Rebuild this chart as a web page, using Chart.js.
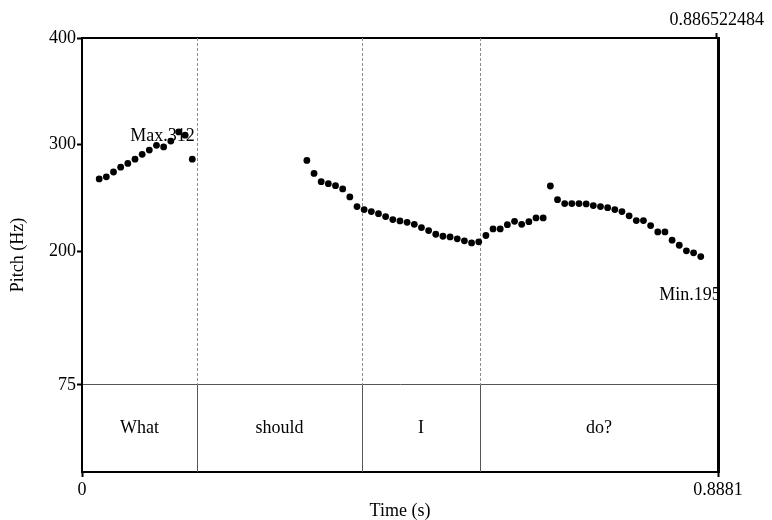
<!DOCTYPE html>
<html>
<head>
<meta charset="utf-8">
<script src="https://cdn.jsdelivr.net/npm/chart.js@4.4.0/dist/chart.umd.min.js"></script>
<style>
html,body{margin:0;padding:0;background:#fff;}
#c{display:block;}
</style>
</head>
<body>
<canvas id="c" width="772" height="520"></canvas>
<script>
// ---- data ----
const seg1Times = [0.024,0.034,0.044,0.054,0.064,0.074,0.084,0.094,0.104,0.114,0.124,0.135,0.144,0.154];
const seg1Pitch = [268,270,274.5,279,282.5,286.5,291,295,299.5,298,303.5,312,309,286.5];

const seg2Times = [0.314,0.324,0.334,0.344,0.354,0.364,0.374,0.384,0.394,0.404,0.414,0.424,0.434,0.444,0.454,0.464,0.474,
                   0.484,0.494,0.504,0.514,0.524,0.534,0.544,0.554,0.564,0.574,0.584,0.594,0.604,0.614,0.624,0.634,0.644];
const seg2Pitch = [285.3,273.2,265.4,263.6,261.7,258.6,251.1,242.1,239.3,237.4,235.5,232.7,229.9,228.7,227.4,225.5,222.4,
                   219.6,216.2,214.3,213.7,211.9,210,208.1,209.1,215,221.2,221.2,225.2,228.3,225.5,228,231.5,231.5];

const seg3Times = [0.654,0.664,0.674,0.684,0.694,0.704,0.714,0.724,0.734,0.744,0.754,0.764,0.774,0.784,0.794,0.804,0.814,
                   0.824,0.834,0.844,0.854,0.864];
const seg3Pitch = [261.4,248.6,244.9,244.9,244.9,244.6,243,242.1,241.1,239.3,237.4,233.4,229,229,224.3,218.4,218.4,
                   210.6,205.9,200.7,198.8,195.3];

const wordLabels = ["What","should","I","do?"];
const wordBoundaries = [0, 0.1606, 0.391, 0.5558, 0.8881];

const yTickValues = [75,200,300,400];
const yTickLabels = ["75","200","300","400"];
const xTickValues = [0, 0.8881];
const xTickLabels = ["0","0.8881"];
const topTickValues = [0.886522484];
const topTickLabels = ["0.886522484"];

const maxText = "Max.312";
const minText = "Min.195";

const xMax = 0.8881;
const yMax = 400;
const tierTopHz = 75;
const yMin = -6.5; // leaves room for the text tier below 75 Hz

// ---- build ----
const FONT = '"Liberation Serif", "Times New Roman", serif';
const allTimes = seg1Times.concat(seg2Times, seg3Times);
const allPitch = seg1Pitch.concat(seg2Pitch, seg3Pitch);
const points = allTimes.map((t, i) => ({x: t, y: allPitch[i]}));

const tierPlugin = {
  id: 'tier',
  beforeDatasetsDraw(chart) {
    const {ctx, chartArea: a, scales: {x, y}} = chart;
    const y75 = y.getPixelForValue(tierTopHz);
    ctx.save();
    for (const b of wordBoundaries.slice(1, -1)) {
      const px = Math.round(x.getPixelForValue(b)) + 0.5;
      ctx.lineWidth = 1;
      ctx.strokeStyle = '#8c8c8c';
      ctx.setLineDash([3, 2]);
      ctx.beginPath(); ctx.moveTo(px, a.top); ctx.lineTo(px, y75); ctx.stroke();
      ctx.setLineDash([]);
      ctx.strokeStyle = '#555';
      ctx.beginPath(); ctx.moveTo(px, y75); ctx.lineTo(px, a.bottom); ctx.stroke();
    }
    ctx.fillStyle = '#000';
    ctx.font = '18px ' + FONT;
    ctx.textAlign = 'center';
    ctx.textBaseline = 'middle';
    const ty = (y75 + a.bottom) / 2;
    wordLabels.forEach((w, i) => {
      const cx = (x.getPixelForValue(wordBoundaries[i]) + x.getPixelForValue(wordBoundaries[i + 1])) / 2;
      ctx.fillText(w, cx, ty);
    });
    // max / min annotations
    let iMax = 0, iMin = 0;
    allPitch.forEach((v, i) => { if (v > allPitch[iMax]) iMax = i; if (v < allPitch[iMin]) iMin = i; });
    ctx.textAlign = 'right';
    ctx.fillText(maxText, x.getPixelForValue(allTimes[iMax]) + 16, y.getPixelForValue(allPitch[iMax]) + 4);
    ctx.fillText(minText, x.getPixelForValue(allTimes[iMin]) + 20, y.getPixelForValue(allPitch[iMin]) + 39);
    ctx.restore();
  }
};

new Chart(document.getElementById('c'), {
  type: 'scatter',
  data: {
    datasets: [{
      data: points,
      showLine: false,
      pointRadius: 3.4,
      pointHoverRadius: 3.4,
      pointBackgroundColor: '#000',
      pointBorderWidth: 0,
      borderColor: '#000'
    }]
  },
  options: {
    responsive: false,
    animation: false,
    devicePixelRatio: 1,
    layout: {padding: 0},
    plugins: {legend: {display: false}, tooltip: {enabled: false}},
    scales: {
      x: {
        type: 'linear', position: 'bottom', min: 0, max: xMax,
        afterFit(s) { s.height = 48; },
        afterBuildTicks(s) { s.ticks = xTickValues.map(v => ({value: v})); },
        ticks: {font: {family: FONT, size: 18}, color: '#000', padding: 2, maxRotation: 0, autoSkip: false,
                callback: (v, i) => xTickLabels[i]},
        grid: {drawOnChartArea: false, drawTicks: true, tickLength: 5, tickColor: '#000', tickWidth: 2},
        border: {display: true, color: '#000', width: 2},
        title: {display: true, text: 'Time (s)', color: '#000', font: {family: FONT, size: 18, lineHeight: 1},
                padding: {top: 0, bottom: 0}}
      },
      x2: {
        type: 'linear', position: 'top', min: 0, max: xMax,
        afterFit(s) { s.height = 38; },
        afterBuildTicks(s) { s.ticks = topTickValues.map(v => ({value: v})); },
        ticks: {font: {family: FONT, size: 18}, color: '#000', padding: 2, maxRotation: 0, autoSkip: false,
                callback: (v, i) => topTickLabels[i]},
        grid: {drawOnChartArea: false, drawTicks: true, tickLength: 5, tickColor: '#000', tickWidth: 2},
        border: {display: true, color: '#000', width: 2}
      },
      y: {
        type: 'linear', position: 'left', min: yMin, max: yMax,
        afterFit(s) { s.width = 82; },
        afterBuildTicks(s) { s.ticks = yTickValues.map(v => ({value: v})); },
        ticks: {font: {family: FONT, size: 18}, color: '#000', padding: 1, autoSkip: false,
                callback: (v, i) => yTickLabels[i]},
        grid: {
          drawOnChartArea: true,
          color: (c) => (c.tick && c.tick.value === tierTopHz) ? '#555' : 'rgba(0,0,0,0)',
          lineWidth: 1, drawTicks: true, tickLength: 5, tickColor: '#000', tickWidth: 2
        },
        border: {display: true, color: '#000', width: 2},
        title: {display: true, text: 'Pitch (Hz)', color: '#000', font: {family: FONT, size: 18, lineHeight: 1},
                padding: {top: 9, bottom: 0}}
      },
      y2: {
        type: 'linear', position: 'right', min: yMin, max: yMax,
        afterFit(s) { s.width = 54; },
        ticks: {display: false},
        grid: {display: false},
        border: {display: true, color: '#000', width: 3, z: 1}
      }
    }
  },
  plugins: [tierPlugin]
});
</script>
</body>
</html>
